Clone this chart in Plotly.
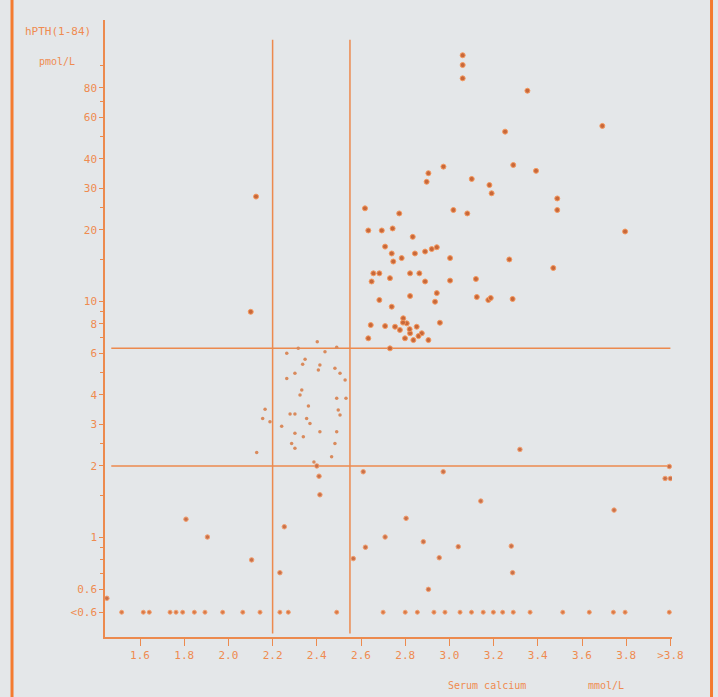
import plotly.graph_objects as go

# ---------------- data ----------------
# normal-range cluster (small dots)
normal_x = [2.402, 2.316, 2.264, 2.437, 2.49, 2.347, 2.336, 2.414, 2.407, 2.482, 2.505, 2.264, 2.301,
            2.332, 2.324, 2.528, 2.532, 2.49, 2.362, 2.166, 2.155, 2.279, 2.301, 2.354, 2.369, 2.497,
            2.505, 2.241, 2.188, 2.414, 2.49, 2.301, 2.339, 2.286, 2.301, 2.482, 2.467, 2.128, 2.387]
normal_y = [6.72, 6.30, 6.0, 6.10, 6.37, 5.66, 5.39, 5.35, 5.10, 5.19, 4.94, 4.70, 4.94,
            4.20, 4.0, 4.63, 3.87, 3.87, 3.59, 3.48, 3.18, 3.32, 3.32, 3.18, 3.03, 3.45,
            3.29, 2.95, 3.08, 2.79, 2.79, 2.75, 2.66, 2.49, 2.38, 2.49, 2.19, 2.28, 2.08]

# elevated PTH / hypercalcaemia cluster
high_x = [2.618, 2.773, 3.018, 3.081, 2.633, 2.694, 2.743, 2.834, 2.709, 2.739, 2.746, 2.784, 2.844,
          2.89, 2.92, 2.943, 3.003, 2.656, 2.648, 2.683, 2.731, 2.822, 2.864, 2.89, 3.003, 3.12,
          3.124, 3.176, 2.943, 2.935, 2.822, 2.683, 2.739, 2.957, 2.644, 2.709, 2.754, 2.791,
          2.807, 2.776, 2.822, 2.852, 2.875, 2.905, 2.633, 2.837, 2.731, 2.799, 2.79, 2.82, 2.86,
          3.06, 3.06, 3.06, 3.353, 3.252, 3.692, 2.973, 3.101, 3.181, 3.191, 3.289, 3.392, 3.488,
          3.488, 3.795, 3.271, 3.47, 3.187, 3.286, 2.905, 2.897, 2.125, 2.101]
high_y = [24.7, 23.5, 24.3, 23.5, 19.9, 19.9, 20.3, 18.7, 17.0, 15.9, 14.7, 15.2, 15.9,
          16.2, 16.6, 16.9, 15.2, 13.1, 12.1, 13.1, 12.5, 13.1, 13.1, 12.1, 12.2, 12.4,
          10.4, 10.1, 10.8, 9.93, 10.5, 10.1, 9.46, 8.09, 7.91, 7.83, 7.78, 8.45,
          8.04, 7.54, 7.30, 7.78, 7.30, 6.83, 6.95, 6.83, 6.30, 6.95, 8.1, 7.6, 7.1,
          110, 100, 87.8, 77.8, 52.2, 55.2, 37.1, 32.9, 31.0, 28.6, 37.7, 35.6, 27.2,
          24.3, 19.7, 15.0, 13.8, 10.3, 10.2, 34.8, 32.0, 27.7, 9.0]

# low PTH points (above detection limit)
low_x = [1.45, 1.808, 1.905, 2.105, 2.253, 2.233, 2.565, 2.62, 2.709, 2.414, 2.41, 2.40, 2.61,
         2.804, 2.882, 2.954, 2.905, 3.04, 3.142, 3.28, 3.286, 3.319, 2.972, 3.745, 3.995, 3.976, 4.0]
low_y = [0.55, 1.19, 1.0, 0.80, 1.105, 0.706, 0.81, 0.905, 1.0, 1.51, 1.81, 2.0, 1.89,
         1.2, 0.955, 0.817, 0.60, 0.91, 1.42, 0.915, 0.706, 2.35, 1.89, 1.30, 1.99, 1.77, 1.77]

# undetectable PTH (<0.6) row
undet_value = 0.48
undet_x = [1.517, 1.615, 1.642, 1.736, 1.763, 1.793, 1.846, 1.894, 1.974, 2.065, 2.143, 2.233, 2.271,
           2.49, 2.70, 2.80, 2.855, 2.93, 2.98, 3.048, 3.10, 3.153, 3.199, 3.241, 3.289, 3.365,
           3.513, 3.633, 3.742, 3.795, 3.995]

# reference limits
ca_limits = [2.2, 2.55]
pth_limits = [2.0, 6.3]

# axis ticks
x_tickvals = [1.6, 1.8, 2.0, 2.2, 2.4, 2.6, 2.8, 3.0, 3.2, 3.4, 3.6, 3.8, 4.0]
x_ticktext = ["1.6", "1.8", "2.0", "2.2", "2.4", "2.6", "2.8", "3.0", "3.2", "3.4", "3.6", "3.8", ">3.8"]
y_tickvals = [0.48, 0.6, 1, 2, 3, 4, 6, 8, 10, 20, 30, 40, 60, 80]
y_ticktext = ["<0.6", "0.6", "1", "2", "3", "4", "6", "8", "10", "20", "30", "40", "60", "80"]
y_minor = [0.7, 0.8, 0.9, 1.5, 2.5, 5, 7, 9, 15, 25, 50, 70, 100]

# ---------------- style ----------------
BG = "#e4e7e9"
LINE = "#ec8a4e"
TXT = "#ef8b50"
FONT = "DejaVu Sans Mono"

fig = go.Figure()

fig.add_trace(go.Scatter(x=normal_x, y=normal_y, mode="markers",
                         marker=dict(size=3.5, color="#d98a5c", line=dict(width=0)),
                         showlegend=False))
fig.add_trace(go.Scatter(x=high_x, y=high_y, mode="markers",
                         marker=dict(size=5, color="#c8683a", line=dict(width=1, color="#f59a60")),
                         showlegend=False))
fig.add_trace(go.Scatter(x=low_x, y=low_y, mode="markers",
                         marker=dict(size=4.5, color="#c9714a", line=dict(width=1, color="#f2a070")),
                         showlegend=False))
fig.add_trace(go.Scatter(x=undet_x, y=[undet_value] * len(undet_x), mode="markers",
                         marker=dict(size=4, color="#d97a48", line=dict(width=1, color="#f2a070")),
                         showlegend=False))

shapes = []
for c in ca_limits:
    shapes.append(dict(type="line", xref="x", yref="y", x0=c, x1=c, y0=0.39, y1=128,
                       line=dict(color=LINE, width=1.5), layer="below"))
for p in pth_limits:
    shapes.append(dict(type="line", xref="x", yref="y", x0=1.47, x1=4.0, y0=p, y1=p,
                       line=dict(color=LINE, width=1.5), layer="below"))
# orange side borders of the panel
for px in [-0.1640, 1.0697]:
    shapes.append(dict(type="line", xref="paper", yref="paper", x0=px, x1=px, y0=-0.2, y1=1.2,
                       line=dict(color="#f47b2f", width=3)))

annotations = [
    dict(text="hPTH(1-84)", xref="paper", yref="paper", x=-0.083, y=0.9806,
         showarrow=False, font=dict(family=FONT, size=11, color=TXT), xanchor="center", yanchor="middle"),
    dict(text="pmol/L", xref="paper", yref="paper", x=-0.085, y=0.932,
         showarrow=False, font=dict(family=FONT, size=10, color=TXT), xanchor="center", yanchor="middle"),
    dict(text="Serum calcium", xref="paper", yref="paper", x=0.6737, y=-0.0794,
         showarrow=False, font=dict(family=FONT, size=10, color=TXT), xanchor="center", yanchor="middle"),
    dict(text="mmol/L", xref="paper", yref="paper", x=0.8836, y=-0.0794,
         showarrow=False, font=dict(family=FONT, size=10, color=TXT), xanchor="center", yanchor="middle"),
]

fig.update_layout(
    width=718, height=697,
    margin=dict(l=105, r=46, t=20, b=60),
    paper_bgcolor=BG, plot_bgcolor=BG,
    shapes=shapes, annotations=annotations,
    xaxis=dict(range=[1.4416, 4.0072], tickmode="array", tickvals=x_tickvals, ticktext=x_ticktext,
               showgrid=False, zeroline=False, showline=True, linecolor=LINE, linewidth=1.5,
               ticks="outside", ticklen=7, tickcolor=LINE, tickwidth=1.2,
               tickfont=dict(family=FONT, size=11, color=TXT)),
    yaxis=dict(type="log", range=[-0.4237, 2.1907], tickmode="array", tickvals=y_tickvals,
               ticktext=y_ticktext, showgrid=False, zeroline=False, showline=True, linecolor=LINE,
               linewidth=1.5, ticks="outside", ticklen=4, tickcolor=LINE, tickwidth=1.2,
               tickfont=dict(family=FONT, size=11, color=TXT),
               minor=dict(tickmode="array", tickvals=y_minor, ticks="outside", ticklen=3,
                          tickcolor=LINE, showgrid=False)),
)

fig.write_html("out.html")
